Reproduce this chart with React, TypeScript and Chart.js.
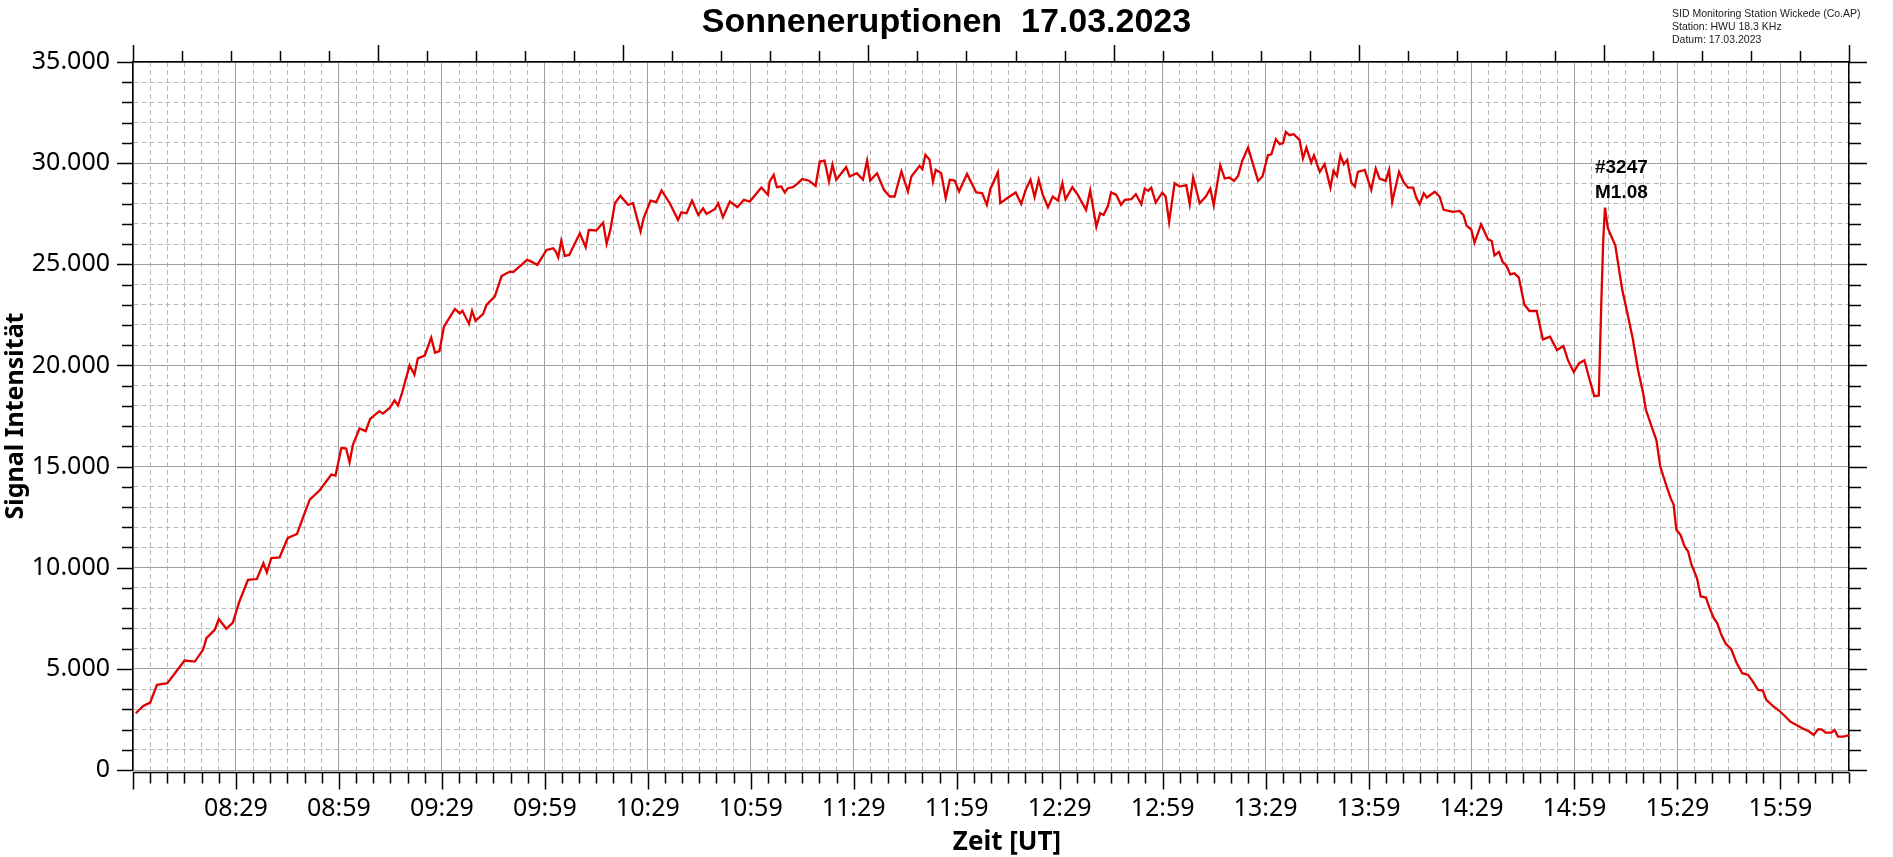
import React, { useEffect, useRef } from 'react';
import { Chart, registerables } from 'chart.js';

Chart.register(...registerables);

// ---- data (minutes after 07:59 UT, signal intensity) ----
const minutes = [
  0.8, 3, 5, 7, 10, 12.6, 15, 18, 20.4, 21.4, 23.8, 25, 27.2, 29.1, 31, 33.5, 36.1, 38, 39, 40.3,
  42.7, 45.1, 47.8, 49.5, 51.5, 54.4, 57.8, 59, 60.7, 62.1, 63.1, 64.1, 66, 67.8, 69.1, 71.8, 72.8, 74.8,
  76.2, 77.2, 78.4, 80.6, 82, 83, 85, 86.9, 88, 89.3,
  90.6, 93.8, 95.2, 96, 97.9, 98.8, 99.8, 102, 103, 105.4, 107.4, 109.8, 110.8, 113.2, 114.8, 116.1,
  117.8, 120.5, 122.4, 123.2, 123.9, 124.8, 125.8, 127.1, 130.2, 131.9, 132.8, 135, 137, 138, 139.1,
  140.4, 142, 144.3, 145.7, 147.9, 148.8, 150.8, 152.5, 154, 156.4, 158.8, 159.8, 161.3, 162.9, 164.7,
  166.1, 167.1, 169.5, 170.5, 171.9, 173.9, 176.1, 178, 179.7, 183.1, 185, 185.5,
  186.7, 187.6, 188.9, 189.9, 190.8, 192.3, 193.5, 195, 197, 198.9, 200.1, 201.5, 202.8, 203.8, 204.9,
  206.4, 207.8, 208.8, 210.9, 212.7, 213.9, 214.8, 216.8, 218.8, 220.5, 221.9, 223.9, 225.8, 226.8,
  229.2, 230, 230.9, 232.1, 233.1, 233.9, 235.5, 236.8, 238, 239.4, 240.7, 243, 245.7, 247.4, 248.8,
  249.8, 252, 252.7, 255.4, 257.2, 258.8, 260.1, 261.5, 262.7, 263.9, 265.1, 266.6, 268, 269.5, 270.8,
  271.7, 273.7, 275.3, 277.7, 278.9, 280.7, 281.8, 282.8, 284.1, 285, 286.5, 287.9,
  289, 290.9, 292.2, 293.8, 294.8, 295.8, 296.7, 298, 299.9, 300.9, 301.9, 303.5, 305, 306.9, 307.9,
  308.9, 310.8, 312.6, 313.9, 314.9, 316.8, 318.1, 319.5, 320.8, 322, 323.2, 324.9, 327.8, 329.1, 330.7,
  331.7, 333, 334.1, 335.1, 335.9, 337, 338.2, 339.9, 340.9, 341.9, 343.3, 344.1, 345.8, 347.2, 348.9,
  349.8, 350.8, 351.8, 352.8, 353.8, 355, 356, 356.9, 358.9, 360.8, 362.1, 363.2, 365, 366, 366.9,
  368.9, 370.2, 371.5, 373, 373.9, 374.9, 376.1, 377, 379.3, 380.7, 381.9, 384.6,
  386.5, 387.7, 388.6, 389.9, 390.9, 392.8, 394.8, 395.9, 396.7, 398, 399.1, 400.1, 401.3, 402.5, 403.8,
  405.4, 406.9, 409, 410.8, 412.9, 414.9, 416.8, 418.1, 419.8, 421.3, 422.9, 424.4, 425.8, 427.1, 427.8,
  428.4, 428.9, 429.7, 430.7, 431.9, 433.9, 435.2, 437,
  438.5, 440, 440.8, 442.4, 443.9, 445, 446.6, 448, 448.9, 449.7, 450.9, 452.1, 453.1, 454.1, 455.7,
  456.8, 458.3, 459.4, 460.6, 461.6, 462.8, 464.1, 465.7, 467.2, 468.9, 470.6, 472, 473.5, 474.9, 475.9,
  477.7, 479.6, 481.3, 482.9, 484.7, 486.4, 488.4, 489.7, 491, 492, 493.2, 494.9, 495.8, 496.8, 498.5, 500,
];

const signal = [
  2805, 3170, 3330, 4210, 4290, 4870, 5410, 5360, 5940, 6520, 6930, 7460, 6980, 7290, 8330, 9400, 9440, 10230, 9770, 10480,
  10510, 11470, 11670, 12460, 13370, 13830, 14600, 14550, 15920, 15890, 15210, 16090, 16880, 16750, 17360, 17740, 17620, 17900,
  18270, 18020, 18650, 20000, 19550, 20350, 20490, 21370, 20630, 20710,
  21915, 22790, 22575, 22700, 22050, 22700, 22210, 22540, 22990, 23400, 24420, 24640, 24620, 24970, 25215, 25130,
  24970, 25710, 25790, 25630, 25350, 26170, 25410, 25460, 26535, 25840, 26700, 26670, 27060, 26010, 26700,
  28020, 28380, 27940, 28020, 26620, 27280, 28150, 28070, 28650, 28020, 27200, 27570, 27520, 28150, 27440,
  27770, 27490, 27720, 28020, 27330, 28100, 27820, 28190, 28100, 28800, 28430, 29100,
  29420, 28810, 28850, 28550, 28760, 28810, 28980, 29210, 29130, 28880, 30080, 30130, 29090, 29920, 29180,
  29500, 29800, 29340, 29500, 29180, 30130, 29140, 29500, 28680, 28350, 28350, 29590, 28600, 29340,
  29870, 29700, 30410, 30170, 29090, 29670, 29500, 28270, 29180, 29140, 28600, 29470, 28550, 28520, 27940,
  28710, 29540, 28020, 28350, 28550, 27990, 28680, 29180, 28320, 29180, 28430, 27820, 28350, 28150, 29010,
  28220, 28810, 28430, 27690, 28650, 26860, 27530, 27440, 27890, 28550, 28430, 27940,
  28180, 28215, 28460, 27970, 28740, 28630, 28790, 28050, 28545, 28350, 27090, 29010, 28840, 28910, 27970,
  29290, 28020, 28350, 28740, 27920, 29900, 29240, 29290, 29120, 29370, 30110, 30770, 29120, 29340, 30390,
  30440, 31185, 30940, 30990, 31550, 31380, 31430, 31150, 30230, 30770, 30030, 30390, 29570, 29950, 28790,
  29620, 29370, 30390, 29950, 30160, 29040, 28840, 29570, 29670, 28680, 29730, 29240, 29120, 29670, 28080,
  29570, 29070, 28790, 28790, 28300, 27970, 28510, 28300, 28580, 28350, 27690, 27590,
  27640, 27420, 26900, 26730, 26070, 26980, 26235, 26150, 25440, 25610, 25110, 24950, 24500, 24550, 24340,
  23010, 22690, 22690, 21285, 21420, 20760, 20955, 20260, 19670, 20100, 20260, 19305, 18480, 18510, 22935,
  26235, 27800, 26810, 26400, 25940, 23760, 22770, 21320,
  19800, 18645, 17820, 17030, 16300, 15015, 14160, 13450, 13120, 11880, 11630, 11055, 10810, 10150, 9490,
  8580, 8530, 8000, 7510, 7260, 6680, 6240, 5970, 5310, 4785, 4700, 4370, 3960, 3930, 3465,
  3185, 2940, 2670, 2390, 2230, 2060, 1900, 1730, 2010, 2010, 1850, 1850, 1980, 1650, 1650, 1730,
];

// axis set-up
const startClock = 7 * 60 + 59; // 07:59 UT
const xMax = 500;
const xMinorStep = 5;
const xMajorStep = 30;
const yMax = 35000;
const yMinorStep = 1000;
const yMajorStep = 5000;
const topTickMax = 35;
const topMajorEvery = 5;

// texts
const chartTitle = 'Sonneneruptionen  17.03.2023';
const infoLines = ['SID Monitoring Station Wickede (Co.AP)', 'Station: HWU 18.3 KHz', 'Datum: 17.03.2023'];
const xAxisTitle = 'Zeit [UT]';
const yAxisTitle = 'Signal Intensität';
const flareLabel = ['#3247', 'M1.08'];
const flareMinute = 428.9;

const fmtTime = (v: number) => {
  const t = startClock + v;
  const h = Math.floor(t / 60);
  const m = t % 60;
  return String(h).padStart(2, '0') + ':' + String(m).padStart(2, '0');
};
const fmtNum = (v: number) => String(v).replace(/\B(?=(\d{3})+(?!\d))/g, '.');

const decorPlugin = {
  id: 'decor',
  afterDraw(chart: any) {
    const { ctx, chartArea: a, scales } = chart;
    const xs = scales.x;
    const ys = scales.y;
    const xt = scales.xTop;
    ctx.save();
    ctx.strokeStyle = '#000';
    ctx.lineWidth = 1.5;
    ctx.beginPath();
    const by = a.bottom + 2.5;
    ctx.moveTo(a.left, by);
    ctx.lineTo(a.right, by);
    xs.ticks.forEach((t: any) => {
      const px = Math.round(xs.getPixelForValue(t.value)) + 0.5;
      const len = t.value % xMajorStep === 0 ? 17 : 11;
      ctx.moveTo(px, by);
      ctx.lineTo(px, by + len);
    });
    ys.ticks.forEach((t: any) => {
      const py = Math.round(ys.getPixelForValue(t.value)) + 0.5;
      const major = t.value % yMajorStep === 0;
      ctx.moveTo(a.left - (major ? 16 : 11), py);
      ctx.lineTo(a.left, py);
      ctx.moveTo(a.right, py);
      ctx.lineTo(a.right + (major ? 18 : 12), py);
    });
    xt.ticks.forEach((t: any) => {
      const px = Math.round(xt.getPixelForValue(t.value)) + 0.5;
      const len = t.value % topMajorEvery === 0 ? 17 : 11;
      ctx.moveTo(px, a.top - len);
      ctx.lineTo(px, a.top);
    });
    ctx.stroke();

    // title
    ctx.fillStyle = '#000';
    ctx.textAlign = 'center';
    ctx.textBaseline = 'alphabetic';
    ctx.font = 'bold 34px "Liberation Sans"';
    ctx.fillText(chartTitle, chart.width / 2, 32);

    // x-axis title
    ctx.font = 'bold 26px "Noto Sans"';
    ctx.fillText(xAxisTitle, (a.left + a.right) / 2 + 16, 850);

    // station info
    ctx.textAlign = 'left';
    ctx.fillStyle = '#222';
    ctx.font = '10.5px "Liberation Sans"';
    infoLines.forEach((l, i) => ctx.fillText(l, 1672, 17 + i * 13));

    // flare annotation
    const idx = minutes.indexOf(flareMinute);
    const fx = xs.getPixelForValue(flareMinute);
    const fy = ys.getPixelForValue(signal[idx]);
    ctx.fillStyle = '#000';
    ctx.font = 'bold 19px "Liberation Sans"';
    ctx.fillText(flareLabel[0], fx - 10, fy - 35);
    ctx.fillText(flareLabel[1], fx - 10, fy - 10);
    ctx.restore();
  },
};

const gridMajor = '#a0a0a0';
const gridMinor = '#b8b8b8';

export default function App() {
  const ref = useRef<HTMLCanvasElement | null>(null);
  useEffect(() => {
    if (!ref.current) return;
    Chart.defaults.font.family = '"Noto Sans"';
    const chart = new Chart(ref.current, {
      type: 'line',
      data: {
        datasets: [
          {
            label: 'Signal',
            data: minutes.map((m, i) => ({ x: m, y: signal[i] })),
            borderColor: '#e00000',
            borderWidth: 2.3,
            pointRadius: 0,
            tension: 0,
            fill: false,
          },
        ],
      },
      options: {
        animation: false,
        responsive: false,
        maintainAspectRatio: false,
        layout: { padding: 0 },
        plugins: { legend: { display: false }, tooltip: { enabled: false }, title: { display: false } },
        scales: {
          x: {
            type: 'linear',
            position: 'bottom',
            min: 0,
            max: xMax,
            afterFit: (s: any) => { s.height = 87; },
            ticks: {
              stepSize: xMinorStep,
              autoSkip: false,
              maxRotation: 0,
              padding: 24,
              color: '#000',
              font: { size: 25, family: '"Noto Sans"' },
              callback: (v: any) => (v % xMajorStep === 0 && v > 0 ? fmtTime(v) : ''),
            },
            grid: {
              drawTicks: false,
              color: (c: any) => (c.tick && c.tick.value % xMajorStep === 0 ? gridMajor : gridMinor),
              lineWidth: 1,
            },
            border: {
              display: false,
              dash: (c: any) => (c.tick && c.tick.value % xMajorStep === 0 ? [] : [5, 3]),
            },
          },
          xTop: {
            type: 'linear',
            position: 'top',
            min: 0,
            max: topTickMax,
            afterFit: (s: any) => { s.height = 62; },
            ticks: { stepSize: 1, display: false, autoSkip: false },
            grid: { drawOnChartArea: false, drawTicks: false },
            border: { display: true, color: '#000', width: 1.5 },
          },
          y: {
            type: 'linear',
            position: 'left',
            min: 0,
            max: yMax,
            afterFit: (s: any) => { s.width = 133; },
            title: {
              display: true,
              text: yAxisTitle,
              color: '#000',
              font: { size: 25, weight: 'bold', family: '"Noto Sans"' },
              padding: { top: 1, bottom: 0 },
            },
            ticks: {
              stepSize: yMinorStep,
              autoSkip: false,
              padding: 23,
              color: '#000',
              font: { size: 25, family: '"Noto Sans"' },
              callback: (v: any) => (v % yMajorStep === 0 ? fmtNum(v) : ''),
            },
            grid: {
              drawTicks: false,
              color: (c: any) => (c.tick && c.tick.value % yMajorStep === 0 ? gridMajor : gridMinor),
              lineWidth: 1,
            },
            border: {
              display: true,
              color: '#000',
              width: 1.5,
              dash: (c: any) => (c.tick && c.tick.value % yMajorStep === 0 ? [] : [5, 3]),
            },
          },
          yRight: {
            type: 'linear',
            position: 'right',
            min: 0,
            max: yMax,
            afterFit: (s: any) => { s.width = 44; },
            ticks: { stepSize: yMinorStep, display: false },
            grid: { drawOnChartArea: false, drawTicks: false },
            border: { display: true, color: '#000', width: 1.5 },
          },
        },
      },
      plugins: [decorPlugin],
    });
    return () => chart.destroy();
  }, []);
  return (
    <div style={{ position: 'fixed', left: 0, top: 0, width: 1893, height: 857, background: '#fff' }}>
      <canvas ref={ref} width={1893} height={857} style={{ width: 1893, height: 857, display: 'block' }} />
    </div>
  );
}
